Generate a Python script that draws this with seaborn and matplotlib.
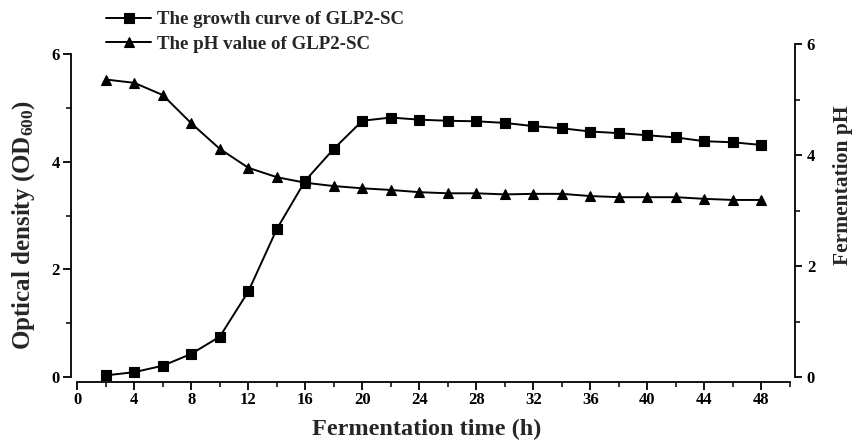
import matplotlib
matplotlib.use("Agg")
import matplotlib.pyplot as plt
import seaborn as sns
import pandas as pd
from matplotlib.ticker import MultipleLocator

# ---- data ----
time_h = [2, 4, 6, 8, 10, 12, 14, 16, 18, 20, 22, 24, 26, 28, 30, 32, 34, 36, 38, 40, 42, 44, 46, 48]
od600 = [0.03, 0.09, 0.21, 0.43, 0.75, 1.59, 2.75, 3.65, 4.24, 4.76, 4.82, 4.78, 4.76, 4.75, 4.72,
         4.66, 4.62, 4.56, 4.53, 4.49, 4.45, 4.38, 4.36, 4.31]
ph_value = [5.36, 5.30, 5.08, 4.57, 4.11, 3.77, 3.60, 3.50, 3.44, 3.40, 3.37, 3.33, 3.31, 3.31, 3.29,
            3.30, 3.30, 3.26, 3.24, 3.24, 3.24, 3.21, 3.19, 3.19]
x_ticks = [0, 4, 8, 12, 16, 20, 24, 28, 32, 36, 40, 44, 48]
y_ticks = [0, 2, 4, 6]
label_od = "The growth curve of GLP2-SC"
label_ph = "The pH value of GLP2-SC"

df = pd.DataFrame({"time": time_h, "od": od600, "ph": ph_value})

sns.set_theme(style="ticks")
plt.rcParams["font.family"] = ["Liberation Serif", "DejaVu Serif"]
plt.rcParams["font.weight"] = "bold"
plt.rcParams["axes.labelweight"] = "bold"
plt.rcParams["mathtext.fontset"] = "custom"
plt.rcParams["mathtext.rm"] = "Liberation Serif:bold"
plt.rcParams["mathtext.it"] = "Liberation Serif:bold"
plt.rcParams["mathtext.bf"] = "Liberation Serif:bold"

W, H = 853, 443
fig = plt.figure(figsize=(W / 100, H / 100), dpi=100)
left_px, right_px, top_px, bot_px = 77.3, 790, 44, 382
ax = fig.add_axes([left_px / W, (H - bot_px) / H, (right_px - left_px) / W, (bot_px - top_px) / H])
ax.set_facecolor("none")
ax2 = ax.twinx()

lw = 1.4
sns.lineplot(data=df, x="time", y="od", ax=ax, color="black", marker="s", markersize=6.5,
             linewidth=lw, markeredgecolor="black", markeredgewidth=0.8, label=label_od, legend=False)
sns.lineplot(data=df, x="time", y="ph", ax=ax2, color="black", marker="^", markersize=7.8,
             linewidth=lw, markeredgecolor="black", markeredgewidth=0.8, label=label_ph, legend=False)

ax.set_xlim(0, 50)
ax.set_ylim(-0.093, 6.186)
ax2.set_ylim(-0.090, 6.0)

ax.set_xticks(x_ticks)
ax.xaxis.set_minor_locator(MultipleLocator(2))
ax.set_yticks(y_ticks)
ax.yaxis.set_minor_locator(MultipleLocator(1))
ax2.set_yticks(y_ticks)
ax2.yaxis.set_minor_locator(MultipleLocator(1))

for s in ["top", "right"]:
    ax.spines[s].set_visible(False)
for s in ["top", "left", "bottom"]:
    ax2.spines[s].set_visible(False)
ax.spines["left"].set_position(("outward", 4.5))
ax.spines["left"].set_bounds(0, 6)
ax.spines["bottom"].set_bounds(0, 50)
ax2.spines["right"].set_position(("outward", 3.6))
ax2.spines["right"].set_bounds(0, 6)
for sp in [ax.spines["left"], ax.spines["bottom"], ax2.spines["right"]]:
    sp.set_linewidth(1.3)
    sp.set_color("black")

ax.tick_params(axis="x", which="major", direction="out", length=5.5, width=1.3, pad=2,
               labelsize=12, colors="black")
ax.tick_params(axis="x", which="minor", direction="out", length=3.5, width=1.3)
ax.tick_params(axis="y", which="major", direction="out", length=6, width=1.3, pad=2,
               labelsize=12, colors="black")
ax.tick_params(axis="y", which="minor", direction="out", length=3.5, width=1.3)
ax2.tick_params(axis="y", which="major", direction="out", length=5, width=1.3, pad=3.5,
                labelsize=12, colors="black")
ax2.tick_params(axis="y", which="minor", direction="out", length=3.5, width=1.3)

ax.set_xlabel("Fermentation time (h)", fontsize=17.5, fontweight="bold")
ax.xaxis.set_label_coords(0.49, -0.11)
ax.set_ylabel("Optical density (OD$_{600}$)", fontsize=18, fontweight="bold")
ax.yaxis.set_label_coords(-0.056, 0.465)
ax2.set_ylabel("Fermentation pH", fontsize=15.5, fontweight="bold")
ax2.yaxis.set_label_coords(1.06, 0.583)

h1, l1 = ax.get_legend_handles_labels()
h2, l2 = ax2.get_legend_handles_labels()
fig.legend(h1 + h2, l1 + l2, loc="upper left", bbox_to_anchor=(106 / W, (H - 11) / H),
           frameon=False, fontsize=13.6, handlelength=2.4, handletextpad=0.3,
           labelspacing=0.38, borderpad=0, borderaxespad=0)

fig.savefig("out.png", dpi=100)
